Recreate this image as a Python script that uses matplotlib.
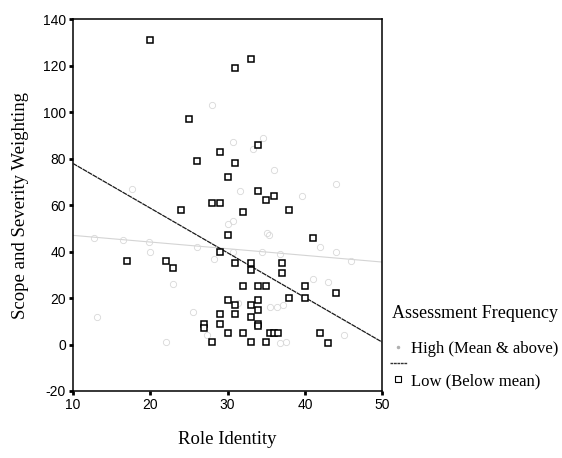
import matplotlib
matplotlib.use("Agg")
import matplotlib.pyplot as plt
from matplotlib.lines import Line2D

plt.rcParams["axes.unicode_minus"] = False

# Low (Below mean) group: Role Identity vs Scope and Severity Weighting
low_x = [20, 25, 26, 29, 31, 33, 31, 30, 34, 34, 35, 36,
         28, 29, 32, 38, 24, 30, 41, 29, 31, 33, 33, 37, 37,
         32, 34, 35, 40, 44, 38, 40, 30, 31, 33, 34, 34, 33, 31, 29, 29,
         27, 27, 34, 34, 30, 32, 35.5, 36, 36.5, 42, 43, 28, 33, 35,
         17, 22, 23]
low_y = [131, 97, 79, 83, 119, 123, 78, 72, 86, 66, 62, 64,
         61, 61, 57, 58, 58, 47, 46, 40, 35, 35, 32, 35, 31,
         25, 25, 25, 25, 22, 20, 20, 19, 17, 17, 19, 15, 12, 13, 13, 9,
         9, 7, 9, 8, 5, 5, 5, 5, 5, 5, 0.5, 1, 1, 1,
         36, 36, 33]

# High (Mean & above) group, printed very faintly in the original
high_x = [28, 34.6, 33.3, 30.7, 31.6, 39.6, 44, 36, 30, 30.7, 35.3, 26,
          28.2, 30.7, 34.4, 36.8, 35.1, 42, 44, 41, 43, 46, 36.4, 45,
          36.8, 25.6, 27.3, 20, 19.8, 17.6, 23, 16.5, 12.7, 13.1, 22,
          31.4, 35.5, 37.2, 37.6]
high_y = [103, 89, 84, 87, 66, 64, 69, 75, 52, 53, 47, 42,
          37, 40, 40, 39, 48, 42, 40, 28, 27, 36, 16, 4,
          0.5, 14, 4, 40, 44, 67, 26, 45, 46, 12, 1,
          18, 16, 17, 1]

# fitted lines, read at the ends of the x range
fit_x = [10, 50]
low_fit_y = [78, 1]
high_fit_y = [47, 35.5]

x_ticks = [10, 20, 30, 40, 50]
y_ticks = [-20, 0, 20, 40, 60, 80, 100, 120, 140]

serif = "Liberation Serif"
sans = "Liberation Sans"

fig = plt.figure(figsize=(5.62, 4.58), dpi=100)
ax = fig.add_axes([0.1294, 0.1463, 0.5509, 0.8116])

ax.plot(fit_x, high_fit_y, color="#d4d4d4", lw=0.8, zorder=2)
ax.plot(high_x, high_y, ls="none", marker="o", ms=4.5, mfc="none",
        mec="#d8d8d8", mew=0.6, zorder=3)
ax.plot(fit_x, low_fit_y, color="#1a1a1a", lw=0.9, ls=(0, (4, 0.6)), zorder=4)
ax.plot(low_x, low_y, ls="none", marker="s", ms=5, mfc="white",
        mec="black", mew=1.1, zorder=5)

ax.set_xlim(10, 50)
ax.set_ylim(-20, 140)
ax.set_xticks(x_ticks)
ax.set_yticks(y_ticks)
ax.tick_params(direction="out", length=3, width=2, labelsize=10, pad=2)
for lab in ax.get_xticklabels() + ax.get_yticklabels():
    lab.set_fontfamily(sans)
for s in ax.spines.values():
    s.set_linewidth(1.1)

ax.set_xlabel("Role Identity", fontfamily=serif, fontsize=13.5, labelpad=14)
ax.set_ylabel("Scope and Severity Weighting", fontfamily=serif, fontsize=13.5, labelpad=10)

# legend: title as its own text, entries below it
fig.text(392 / 562, 1 - 313 / 458, "Assessment Frequency", fontfamily=serif,
         fontsize=13, ha="left", va="center")
handles = [
    Line2D([], [], ls="none", marker="o", ms=1.5, color="#b0b0b0"),
    Line2D([], [], color="#333333", lw=1, ls=(0, (2, 0.5))),
    Line2D([], [], ls="none", marker="s", ms=4, mfc="white", mec="black", mew=0.8),
]
labels = ["High (Mean & above)", "", "Low (Below mean)"]
leg = fig.legend(handles, labels, loc="upper left",
                 bbox_to_anchor=(390 / 562, 1 - 341 / 458),
                 frameon=False, prop={"family": serif, "size": 12},
                 handlelength=1.0, handletextpad=0.25, labelspacing=0.0,
                 borderpad=0, borderaxespad=0)

fig.savefig("out.png", dpi=100)
